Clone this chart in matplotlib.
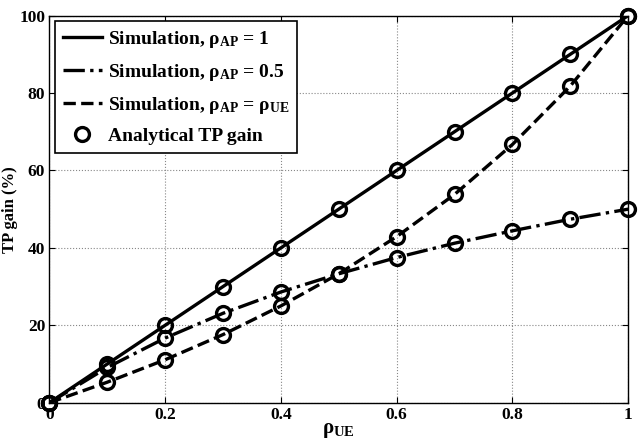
import matplotlib
matplotlib.use('Agg')
from matplotlib import pyplot as plt

plt.rcParams['font.family'] = ['Liberation Serif', 'DejaVu Serif']
plt.rcParams['font.weight'] = 'bold'
plt.rcParams['axes.labelweight'] = 'bold'
plt.rcParams['mathtext.fontset'] = 'custom'
plt.rcParams['mathtext.rm'] = 'Liberation Serif:bold'
plt.rcParams['mathtext.it'] = 'Liberation Serif:bold'
plt.rcParams['mathtext.bf'] = 'Liberation Serif:bold'

rho_ue = [0, 0.1, 0.2, 0.3, 0.4, 0.5, 0.6, 0.7, 0.8, 0.9, 1.0]
gain_ap1 = [0, 10, 20, 30, 40, 50, 60, 70, 80, 90, 100]
gain_ap05 = [0, 9.1, 16.7, 23.1, 28.6, 33.3, 37.5, 41.2, 44.4, 47.4, 50]
gain_apue = [0, 5.3, 11.1, 17.6, 25.0, 33.3, 42.9, 53.8, 66.7, 81.8, 100]

fig, ax = plt.subplots(figsize=(6.41, 4.45), dpi=100)
fig.subplots_adjust(left=0.077, right=0.98, top=0.965, bottom=0.095)

ax.plot(rho_ue, gain_ap1, 'k-', lw=2.4, label=r'Simulation, $\rho_{\mathbf{AP}}$ = 1')
ax.plot(rho_ue, gain_ap05, 'k-.', lw=2.4, label=r'Simulation, $\rho_{\mathbf{AP}}$ = 0.5')
ax.plot(rho_ue, gain_apue, 'k--', lw=2.4, label=r'Simulation, $\rho_{\mathbf{AP}}$ = $\rho_{\mathbf{UE}}$')
ax.plot(rho_ue, gain_ap1, 'o', mfc='none', mec='k', mew=2.4, ms=10, clip_on=False, zorder=5, label='Analytical TP gain')
ax.plot(rho_ue, gain_ap05, 'o', mfc='none', mec='k', mew=2.4, ms=10, clip_on=False, zorder=5)
ax.plot(rho_ue, gain_apue, 'o', mfc='none', mec='k', mew=2.4, ms=10, clip_on=False, zorder=5)

ax.set_xlim(0, 1)
ax.set_ylim(0, 100)
ax.set_xticks([0, 0.2, 0.4, 0.6, 0.8, 1])
ax.set_xticklabels(['0', '0.2', '0.4', '0.6', '0.8', '1'])
ax.set_yticks([0, 20, 40, 60, 80, 100])
ax.tick_params(labelsize=12.5, direction='in', length=4, top=True, right=True, pad=3)
for lab in ax.get_xticklabels() + ax.get_yticklabels():
    lab.set_fontweight('bold')
ax.grid(True, linestyle=':', color='#888888', lw=0.8)
for s in ax.spines.values():
    s.set_linewidth(1.0)
ax.set_xlabel(r'$\rho_{\mathbf{UE}}$', fontsize=15, labelpad=-2)
ax.set_ylabel('TP gain (%)', fontsize=12, fontweight='bold', labelpad=1)

leg = ax.legend(loc='upper left', fontsize=14, fancybox=False, edgecolor='k',
                handlelength=2.0, handletextpad=0.3, borderaxespad=0.3,
                labelspacing=0.6, framealpha=1)
leg.get_frame().set_linewidth(1.2)
for t in leg.get_texts():
    t.set_fontweight('bold')

fig.savefig('out.png', dpi=100)
